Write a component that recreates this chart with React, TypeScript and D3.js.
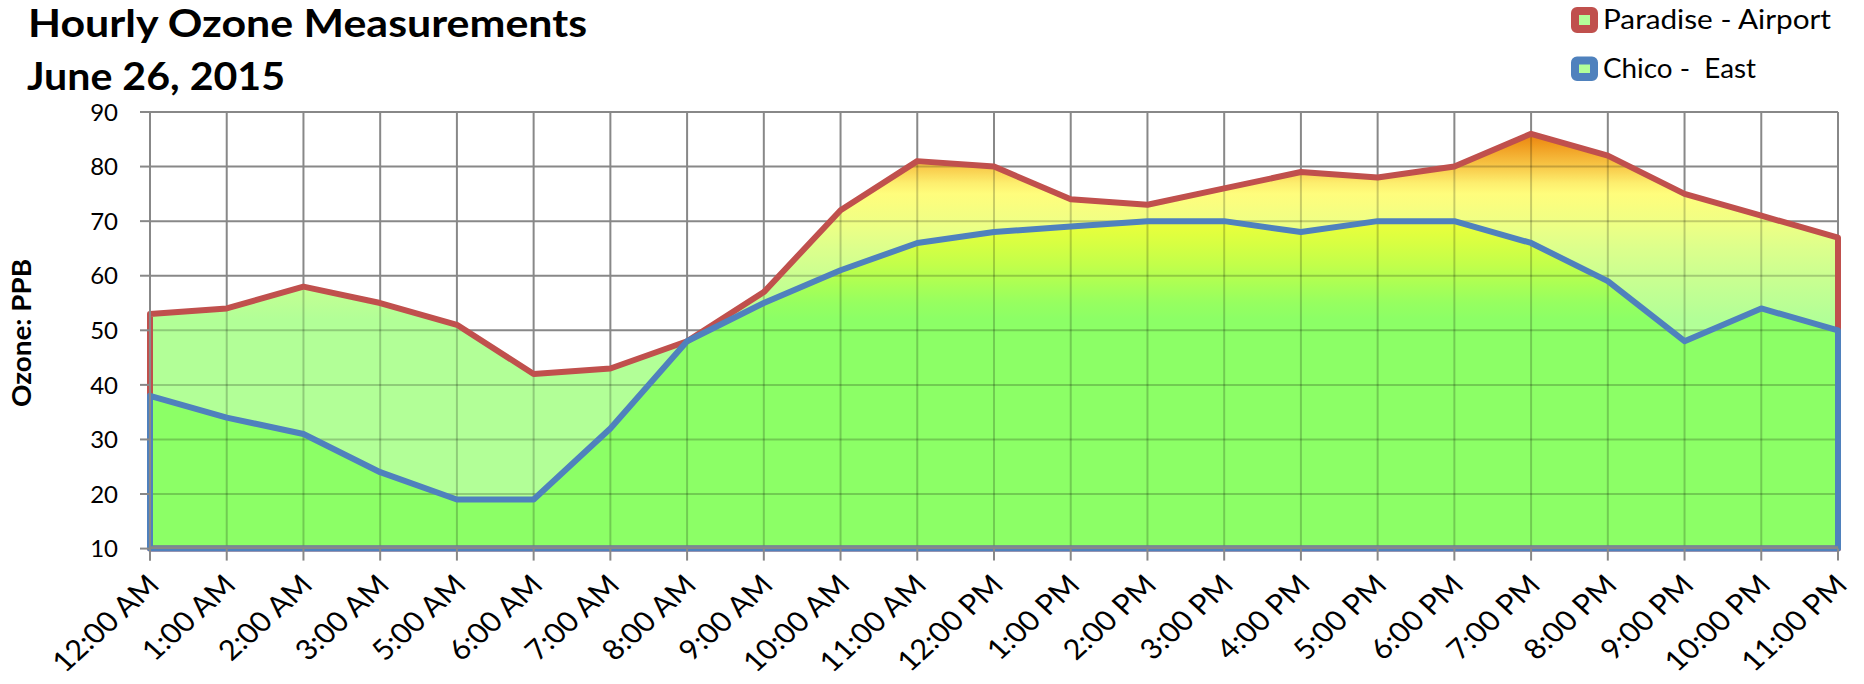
import React from 'react';
import * as d3 from 'd3';

const hours = ["12:00 AM","1:00 AM","2:00 AM","3:00 AM","5:00 AM","6:00 AM","7:00 AM","8:00 AM","9:00 AM","10:00 AM","11:00 AM","12:00 PM","1:00 PM","2:00 PM","3:00 PM","4:00 PM","5:00 PM","6:00 PM","7:00 PM","8:00 PM","9:00 PM","10:00 PM","11:00 PM"];
const paradise = [53,54,58,55,51,42,43,48,57,72,81,80,74,73,76,79,78,80,86,82,75,71,67];
const chico = [38,34,31,24,19,19,32,48,55,61,66,68,69,70,70,68,70,70,66,59,48,54,50];
const yTicks = [10,20,30,40,50,60,70,80,90];
const seriesNames = ["Paradise - Airport", "Chico -  East"];

const FONT = "Lato, 'Open Sans', sans-serif";

export default function App() {
  const W = 1864, H = 684;
  const x = d3.scalePoint<string>().domain(hours).range([150, 1838]);
  const y = d3.scaleLinear().domain([10, 90]).range([548.6, 112]);
  const area = d3.area<number>().x((_, i) => x(hours[i])!).y0(y(10)).y1(d => y(d));
  const pPath = area(paradise)!;
  const cPath = area(chico)!;
  const pStops: [number, string][] = [[87,'#e8760a'],[84,'#f09a1e'],[80,'#f8c848'],[77,'#fdee6e'],[75,'#fffd7c'],[70,'#f0ff84'],[65,'#dcff8c'],[58,'#c4ff92'],[52,'#b2ff97'],[10,'#b2ff97']];
  const cStops: [number, string][] = [[70,'#ecff3a'],[66,'#d8ff42'],[62,'#c2ff4a'],[58,'#a8ff56'],[55,'#96ff60'],[52,'#8cff66'],[10,'#8cff66']];
  const off = (v: number) => (90 - v) / 80;
  const gridCol = '#888888';
  const x0 = x(hours[0])!, x1 = x(hours[hours.length - 1])!;

  const grid = (stroke: string, opacity = 1) => (
    <g stroke={stroke} strokeOpacity={opacity} strokeWidth={2}>
      {yTicks.slice(1).map(t => <line key={'h' + t} x1={x0} x2={x1} y1={y(t)} y2={y(t)} />)}
      {hours.slice(1).map(h => <line key={'v' + h} x1={x(h)} x2={x(h)} y1={y(90)} y2={y(10)} />)}
    </g>
  );

  return (
    <svg width={W} height={H} style={{ position: 'absolute', left: 0, top: 0, background: '#fff' }} fontFamily={FONT}>
      <defs>
        <linearGradient id="gp" gradientUnits="userSpaceOnUse" x1={0} x2={0} y1={y(90)} y2={y(10)}>
          {pStops.map(([v, c], i) => <stop key={i} offset={off(v)} stopColor={c} />)}
        </linearGradient>
        <linearGradient id="gc" gradientUnits="userSpaceOnUse" x1={0} x2={0} y1={y(90)} y2={y(10)}>
          {cStops.map(([v, c], i) => <stop key={i} offset={off(v)} stopColor={c} />)}
        </linearGradient>
        <clipPath id="clipA">
          <path d={pPath} />
          <path d={cPath} />
        </clipPath>
      </defs>
      <rect width={W} height={H} fill="#fff" />
      {grid(gridCol)}
      <path d={pPath} fill="url(#gp)" />
      <path d={cPath} fill="url(#gc)" />
      <g clipPath="url(#clipA)">{grid('#000', 0.2)}</g>
      <path d={pPath} fill="none" stroke="#C0504D" strokeWidth={6} strokeLinejoin="round" />
      <path d={cPath} fill="none" stroke="#4F81BD" strokeWidth={6} strokeLinejoin="round" />
      {/* axes */}
      <g stroke={gridCol} strokeWidth={2}>
        <line x1={x0} x2={x0} y1={y(90)} y2={y(10) + 12} />
        <line x1={x0} x2={x1} y1={y(10) - 1} y2={y(10) - 1} strokeWidth={2.6} />
        {yTicks.map(t => <line key={'yt' + t} x1={x0 - 10} x2={x0} y1={y(t)} y2={y(t)} />)}
        {hours.map(h => <line key={'xt' + h} x1={x(h)} x2={x(h)} y1={y(10)} y2={y(10) + 12} />)}
      </g>
      <g fontSize={24} fill="#000" textAnchor="end">
        {yTicks.map(t => <text key={'yl' + t} x={118} y={y(t)} dy="0.36em">{t}</text>)}
      </g>
      <g fontSize={28} fill="#000" textAnchor="end">
        {hours.map(h => (
          <text key={'xl' + h} transform={`translate(${x(h)! + 3},${y(10) + 31}) scale(1.1,1) rotate(-45)`} dy="0.36em">{h}</text>
        ))}
      </g>
      <text transform={`translate(31,333) rotate(-90)`} textAnchor="middle" fontSize={26} fontWeight="bold" textLength={148} lengthAdjust="spacingAndGlyphs">Ozone: PPB</text>
      <text x={28} y={37} fontSize={38} fontWeight="bold" textLength={559} lengthAdjust="spacingAndGlyphs">Hourly Ozone Measurements</text>
      <text x={27} y={90} fontSize={38} fontWeight="bold" textLength={258} lengthAdjust="spacingAndGlyphs">June 26, 2015</text>
      {/* legend */}
      <rect x={1575} y={11} width={19} height={18} rx={2} fill="#b3ff99" stroke="#C0504D" strokeWidth={8} />
      <rect x={1575} y={60.5} width={19} height={16.5} rx={2} fill="#b3ff99" stroke="#4F81BD" strokeWidth={8} />
      <text x={1603} y={29} fontSize={27} textLength={228} lengthAdjust="spacingAndGlyphs">{seriesNames[0]}</text>
      <text x={1603} y={78} fontSize={27} textLength={153} lengthAdjust="spacingAndGlyphs" style={{ whiteSpace: 'pre' }}>{seriesNames[1]}</text>
    </svg>
  );
}
